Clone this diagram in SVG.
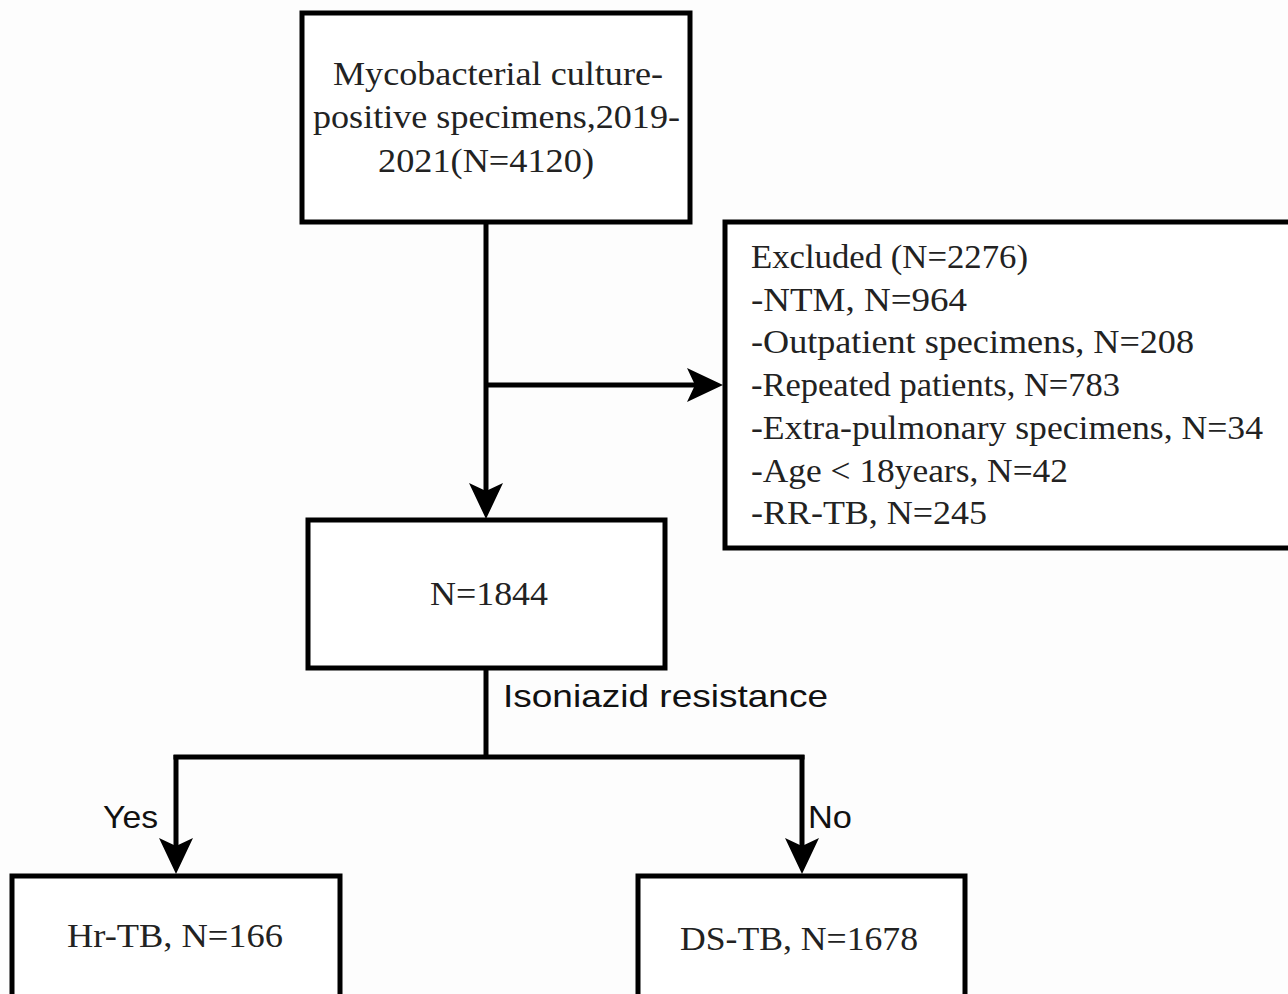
<svg xmlns="http://www.w3.org/2000/svg" width="1288" height="994" viewBox="0 0 1288 994">
<style>
.box{fill:#ffffff;stroke:#000;stroke-width:5}
.ln{fill:none;stroke:#000;stroke-width:5}
.serif{font-family:"Liberation Serif","Times New Roman",serif;font-size:34px;fill:#222}
.sans{font-family:"Liberation Sans",Arial,sans-serif;font-size:32px;fill:#111}
</style>
<defs>
<marker id="arr" viewBox="0 0 36 34" refX="8" refY="17" markerWidth="36" markerHeight="34" markerUnits="userSpaceOnUse" orient="auto">
<path d="M0,0 L36,17 L0,34 L8,17 Z" fill="#000"/>
</marker>
</defs>
<rect width="1288" height="994" fill="#fdfdfd"/>
<g id="connectors">
<line class="ln" x1="486" y1="222" x2="486" y2="491" marker-end="url(#arr)"/>
<line class="ln" x1="484" y1="385" x2="695" y2="385" marker-end="url(#arr)"/>
<line class="ln" x1="486" y1="668" x2="486" y2="757"/>
<line class="ln" x1="173.5" y1="757" x2="804.5" y2="757"/>
<line class="ln" x1="176" y1="755" x2="176" y2="846" marker-end="url(#arr)"/>
<line class="ln" x1="802" y1="755" x2="802" y2="846" marker-end="url(#arr)"/>
<text class="sans" x="503" y="707" textLength="325" lengthAdjust="spacingAndGlyphs">Isoniazid resistance</text>
<text class="sans" x="103" y="828" textLength="55" lengthAdjust="spacingAndGlyphs">Yes</text>
<text class="sans" x="808" y="828" textLength="44" lengthAdjust="spacingAndGlyphs">No</text>
</g>
<g id="node-source">
<rect class="box" x="302" y="13" width="388" height="209"/>
<text class="serif" x="333" y="85" textLength="330" lengthAdjust="spacingAndGlyphs">Mycobacterial culture-</text>
<text class="serif" x="313" y="128" textLength="367" lengthAdjust="spacingAndGlyphs">positive specimens,2019-</text>
<text class="serif" x="378" y="172" textLength="216" lengthAdjust="spacingAndGlyphs">2021(N=4120)</text>
</g>
<g id="node-excluded">
<rect class="box" x="725" y="222" width="580" height="326"/>
<text class="serif" x="751" y="268" textLength="277" lengthAdjust="spacingAndGlyphs">Excluded (N=2276)</text>
<text class="serif" x="751" y="311" textLength="216" lengthAdjust="spacingAndGlyphs">-NTM, N=964</text>
<text class="serif" x="751" y="353" textLength="443" lengthAdjust="spacingAndGlyphs">-Outpatient specimens, N=208</text>
<text class="serif" x="751" y="396" textLength="369" lengthAdjust="spacingAndGlyphs">-Repeated  patients, N=783</text>
<text class="serif" x="751" y="439" textLength="512" lengthAdjust="spacingAndGlyphs">-Extra-pulmonary specimens, N=34</text>
<text class="serif" x="751" y="482" textLength="317" lengthAdjust="spacingAndGlyphs">-Age &lt; 18years, N=42</text>
<text class="serif" x="751" y="524" textLength="236" lengthAdjust="spacingAndGlyphs">-RR-TB, N=245</text>
</g>
<g id="node-1844">
<rect class="box" x="308" y="520" width="357" height="148"/>
<text class="serif" x="430" y="605" textLength="118" lengthAdjust="spacingAndGlyphs">N=1844</text>
</g>
<g id="node-hr">
<rect class="box" x="12" y="876" width="328" height="140"/>
<text class="serif" x="67" y="947" textLength="216" lengthAdjust="spacingAndGlyphs">Hr-TB, N=166</text>
</g>
<g id="node-ds">
<rect class="box" x="638" y="876" width="327" height="140"/>
<text class="serif" x="680" y="950" textLength="238" lengthAdjust="spacingAndGlyphs">DS-TB, N=1678</text>
</g>
</svg>
